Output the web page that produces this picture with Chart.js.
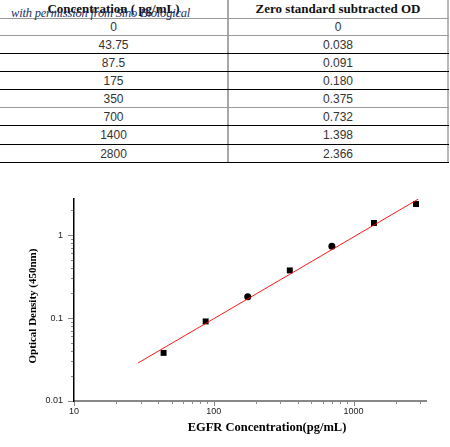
<!DOCTYPE html>
<html>
<head>
<meta charset="utf-8">
<script src="https://cdn.jsdelivr.net/npm/chart.js@4/dist/chart.umd.min.js"></script>
<style>
  html, body { margin: 0; padding: 0; background: #fff; width: 450px; height: 447px; overflow: hidden; position: relative; }
  #tbl { position: absolute; left: 0; top: 0; width: 449px; }
  .row { display: flex; box-sizing: border-box; }
  .cell { box-sizing: border-box; display: flex; align-items: center; justify-content: center; }
  .c1 { width: 229px; border-right: 2px solid #a8a8a8; }
  .c2 { width: 220px; border-right: 2px solid #b8b8b8; }
  .hdr { font-family: "Liberation Serif", "Times New Roman", serif; font-weight: bold; font-size: 13px; color: #111; }
  .body { font-family: "Liberation Sans", Arial, sans-serif; font-size: 12px; color: #333; }
  #wm { position: absolute; left: 11px; top: 6px; font-family: "Liberation Serif", serif; font-style: italic; font-size: 12.5px; color: #1a2f63; white-space: nowrap; letter-spacing: -0.2px; }
  #cv { position: absolute; left: 0; top: 170px; }
</style>
</head>
<body>
<div id="tbl"></div>
<div id="wm">with permission from Sino Biological</div>
<canvas id="cv" width="450" height="277"></canvas>
<script>
// ---- data ----
const tableHeaders = ["Concentration ( pg/mL)", "Zero standard subtracted OD"];
const concentrations = [0, 43.75, 87.5, 175, 350, 700, 1400, 2800];
const odValues = [0, 0.038, 0.091, 0.180, 0.375, 0.732, 1.398, 2.366];
const fitConc = [28.7, 2915];
const fitOD = [0.0287, 2.72];
const xTickLabels = [10, 100, 1000];
const yTickLabels = [0.01, 0.1, 1];
const xTitle = "EGFR Concentration(pg/mL)";
const yTitle = "Optical Density (450nm)";

// ---- table ----
const tbl = document.getElementById('tbl');
const rowHeights = [19, 17, 18, 18, 18, 18, 18, 19, 18];
const lineColors = ['#9a9a9a', '#9a9a9a', '#000', '#000', '#000', '#9a9a9a', '#000', '#000', '#000'];
function addRow(a, b, cls, i) {
  const r = document.createElement('div');
  r.className = 'row ' + cls;
  r.style.height = rowHeights[i] + 'px';
  r.style.borderBottom = '1px solid ' + lineColors[i];
  const c1 = document.createElement('div'); c1.className = 'cell c1'; c1.textContent = a;
  const c2 = document.createElement('div'); c2.className = 'cell c2'; c2.textContent = b;
  r.appendChild(c1); r.appendChild(c2);
  tbl.appendChild(r);
}
addRow(tableHeaders[0], tableHeaders[1], 'hdr', 0);
concentrations.forEach((c, i) => {
  addRow(String(c), odValues[i] === 0 ? '0' : odValues[i].toFixed(3), 'body', i + 1);
});

// ---- chart ----
const pts = concentrations.map((c, i) => ({ x: c, y: odValues[i] })).filter(p => p.x > 0);
const fitPts = fitConc.map((c, i) => ({ x: c, y: fitOD[i] }));
const ptStyles = pts.map(p => (p.x === 175 || p.x === 700) ? 'circle' : 'rect');
const ptRadius = pts.map(p => (p.x === 175 || p.x === 700) ? 3.5 : 4.2);

const tickPlugin = {
  id: 'logTicks',
  afterDraw(chart) {
    const ctx = chart.ctx;
    const xs = chart.scales.x, ys = chart.scales.y;
    ctx.save();
    ctx.strokeStyle = '#888';
    ctx.lineWidth = 1;
    function each(scale, fn) {
      const lo = Math.floor(Math.log10(scale.min)), hi = Math.ceil(Math.log10(scale.max));
      for (let e = lo; e <= hi; e++) {
        for (let m = 1; m <= 9; m++) {
          const v = m * Math.pow(10, e);
          if (v < scale.min * 0.9999 || v > scale.max * 1.0001) continue;
          fn(scale.getPixelForValue(v), m === 1);
        }
      }
    }
    const b = chart.chartArea.bottom;
    each(xs, (px, major) => {
      const x = Math.round(px) + 0.5;
      ctx.beginPath(); ctx.moveTo(x, b + 1); ctx.lineTo(x, b + 1 + (major ? 4 : 2)); ctx.stroke();
    });
    const l = chart.chartArea.left;
    each(ys, (py, major) => {
      const y = Math.round(py) + 0.5;
      ctx.beginPath(); ctx.moveTo(l - (major ? 6 : 3), y); ctx.lineTo(l - 1, y); ctx.stroke();
    });
    // axis titles
    ctx.fillStyle = '#000';
    ctx.font = 'bold 12.5px "Liberation Serif", "Times New Roman", serif';
    ctx.textAlign = 'center'; ctx.textBaseline = 'middle';
    ctx.fillText(xTitle, (chart.chartArea.left + chart.chartArea.right) / 2 + 17, chart.chartArea.bottom + 27);
    ctx.save();
    ctx.translate(33, (chart.chartArea.top + chart.chartArea.bottom) / 2 + 6);
    ctx.rotate(-Math.PI / 2);
    ctx.font = 'bold 11px "Liberation Serif", "Times New Roman", serif';
    ctx.fillText(yTitle, 0, 0);
    ctx.restore();
    ctx.restore();
  }
};

new Chart(document.getElementById('cv'), {
  type: 'scatter',
  data: {
    datasets: [
      {
        data: fitPts,
        showLine: true,
        borderColor: 'rgba(255,0,0,0.9)',
        borderWidth: 1,
        pointRadius: 0,
        fill: false
      },
      {
        data: pts,
        backgroundColor: '#000',
        borderWidth: 0,
        pointStyle: ptStyles,
        pointRadius: ptRadius,
        pointHoverRadius: ptRadius
      }
    ]
  },
  options: {
    responsive: false,
    animation: false,
    devicePixelRatio: 1,
    layout: { padding: { top: 29, right: 24, left: 0, bottom: 0 } },
    plugins: { legend: { display: false }, tooltip: { enabled: false } },
    scales: {
      x: {
        type: 'logarithmic',
        min: 10, max: 3300,
        grid: { display: false, drawTicks: false },
        border: { display: true, color: '#888', width: 2 },
        afterBuildTicks: s => { s.ticks = xTickLabels.map(v => ({ value: v })); },
        afterFit: s => { s.height = 46; },
        ticks: {
          autoSkip: false, maxRotation: 0, padding: 5,
          color: '#222',
          font: { family: '"Liberation Sans", Arial, sans-serif', size: 9 },
          callback: v => String(v)
        }
      },
      y: {
        type: 'logarithmic',
        min: 0.01, max: 2.72,
        grid: { display: false, drawTicks: false },
        border: { display: true, color: '#000', width: 1.5 },
        afterBuildTicks: s => { s.ticks = yTickLabels.map(v => ({ value: v })); },
        afterFit: s => { s.width = 74; },
        ticks: {
          autoSkip: false, padding: 11,
          color: '#222',
          font: { family: '"Liberation Sans", Arial, sans-serif', size: 9 },
          callback: v => String(v)
        }
      }
    }
  },
  plugins: [tickPlugin]
});
</script>
</body>
</html>
